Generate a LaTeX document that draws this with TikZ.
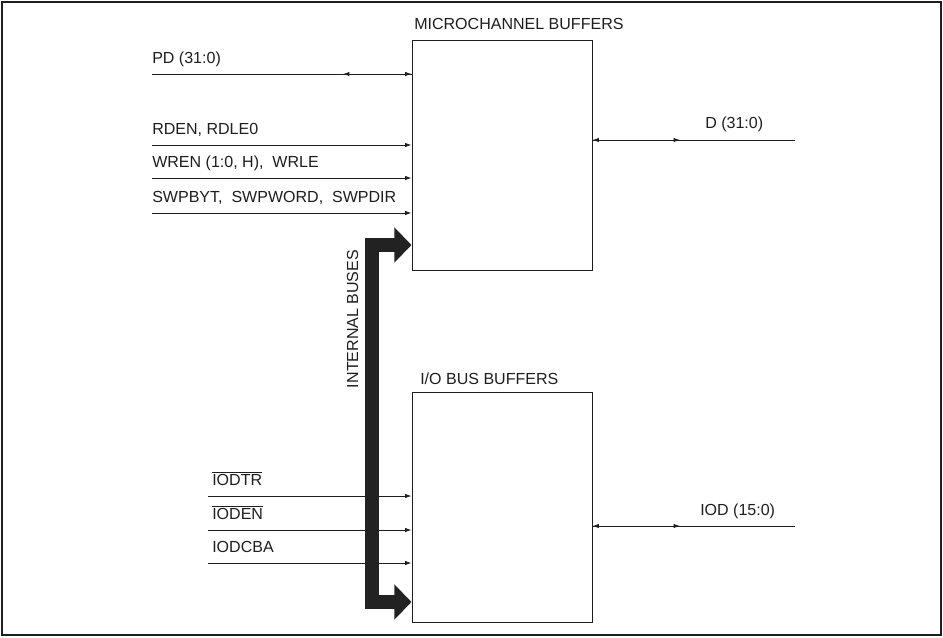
\documentclass[tikz,border=0pt]{standalone}
\usepackage{amsmath}
\usepackage{fontspec}
\setmainfont{Liberation Sans}
\usepackage{xcolor}
\usetikzlibrary{arrows.meta,positioning,calc}
\definecolor{Ink}{HTML}{1E1E1E}
\definecolor{BusFill}{HTML}{222222}

\begin{document}
\begin{tikzpicture}[
    font=\fontsize{11.4}{13.5}\selectfont,
    text=Ink,
    buffer/.style={
        draw=Ink,
        line width=0.7pt,
        minimum width=4.5cm,
        minimum height=5.75cm,
        inner sep=0pt
    },
    title/.style={
        anchor=base west,
        inner sep=0pt
    },
    siglabel/.style={
        anchor=base west,
        inner sep=0pt
    },
    sigin/.style={
        -{Latex[length=1.6mm,width=1.1mm]},
        line width=0.6pt,
        draw=Ink
    },
    bus/.style={
        {Triangle[length=0.43cm,width=0.86cm]}-{Triangle[length=0.43cm,width=0.86cm]},
        line width=0.36cm,
        draw=BusFill
    }
]

\useasboundingbox (0,0) rectangle (23.575,15.925);

% Frame
\draw[draw=Ink, line width=1pt] (0.05,0.05) rectangle (23.525,15.875);

% Buffers
\node[buffer] (mcb) at (12.55,12.05) {};
\node[buffer] (iob) at (12.55,3.25) {};

\node[title] (mcbtitle) at (10.35,15.175) {MICROCHANNEL BUFFERS};
\node[title] (iobtitle) at (10.5,6.325) {I/O BUS BUFFERS};

% ===========================
% Microchannel side
% ===========================

\coordinate (pd) at (3.8,14.075);
\coordinate (pdmid) at (8.575,14.075);
\coordinate (rden) at (3.8,12.3);
\coordinate (wren) at (3.8,11.475);
\coordinate (swp) at (3.8,10.6);

\node[siglabel] (pdtext) at ([yshift=0.27cm]pd) {PD (31:0)};
\node[siglabel] (rdentext) at ([yshift=0.27cm]rden) {RDEN, RDLE0};
\node[siglabel] (wrentext) at ([yshift=0.27cm]wren) {WREN (1:0, H),\ \ WRLE};
\node[siglabel] (swptext) at ([yshift=0.27cm]swp) {SWPBYT,\ \ SWPWORD,\ \ SWPDIR};

\draw[sigin] (pd) -- (pd -| mcb.west);
\draw[sigin] (pd -| mcb.west) -- (pdmid);
\draw[sigin] (rden) -- (rden -| mcb.west);
\draw[sigin] (wren) -- (wren -| mcb.west);
\draw[sigin] (swp) -- (swp -| mcb.west);

% Data bus out
\coordinate (dend) at (19.875,12.425);
\coordinate (dmid) at (17.0,12.425);
\node[siglabel] (dtext) at (17.625,12.7) {D (31:0)};
\draw[sigin] (dend) -- (dend -| mcb.east);
\draw[sigin] (dend -| mcb.east) -- (dmid);

% ===========================
% I/O side
% ===========================

\coordinate (iodtr) at (5.2,3.525);
\coordinate (ioden) at (5.2,2.675);
\coordinate (iodcba) at (5.2,1.85);

\node[siglabel] (iodtrtext) at ([xshift=0.1cm,yshift=0.27cm]iodtr) {$\overline{\text{IODTR}}$};
\node[siglabel] (iodentext) at ([xshift=0.1cm,yshift=0.27cm]ioden) {$\overline{\text{IODEN}}$};
\node[siglabel] (iodcbatext) at ([xshift=0.1cm,yshift=0.27cm]iodcba) {IODCBA};

\draw[sigin] (iodtr) -- (iodtr -| iob.west);
\draw[sigin] (ioden) -- (ioden -| iob.west);
\draw[sigin] (iodcba) -- (iodcba -| iob.west);

\coordinate (iodend) at (19.875,2.775);
\coordinate (iodmid) at (17.0,2.775);
\node[siglabel] (iodtext) at (17.5,3.05) {IOD (15:0)};
\draw[sigin] (iodend) -- (iodend -| iob.east);
\draw[sigin] (iodend -| iob.east) -- (iodmid);

% Internal buses
\coordinate (bustop) at (9.3,9.8);
\coordinate (busbot) at (9.3,0.875);
\draw[bus] (bustop -| mcb.west) -- (bustop) -- (busbot) -- (busbot -| iob.west);

\node[rotate=90, anchor=base, inner sep=0pt] (bustext) at (8.95,7.95) {INTERNAL BUSES};

\end{tikzpicture}
\end{document}
